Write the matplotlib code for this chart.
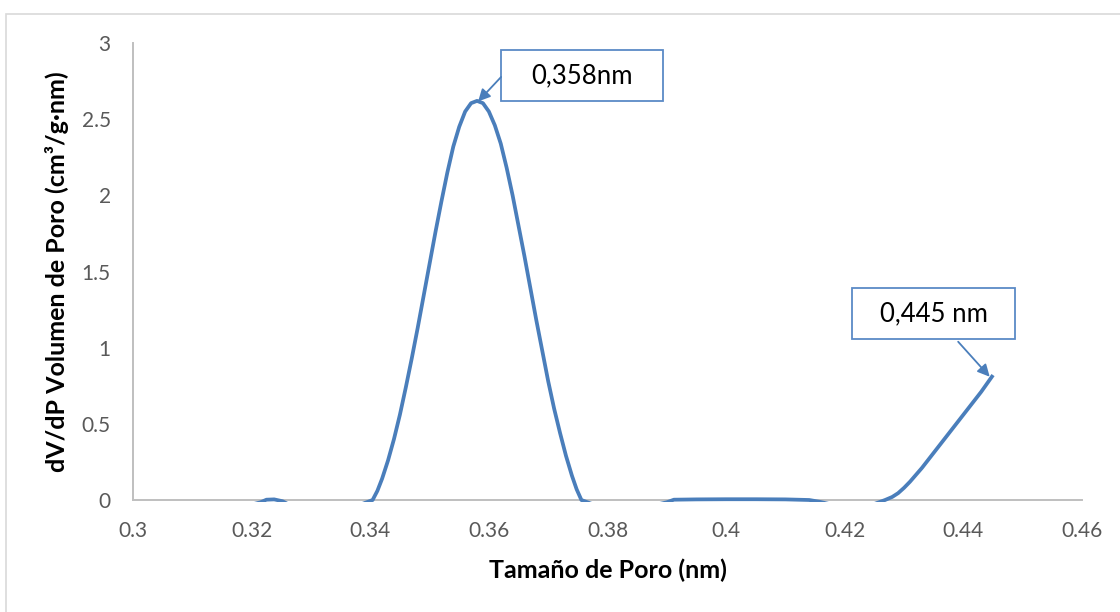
import matplotlib
matplotlib.use("Agg")
import matplotlib.pyplot as plt
from matplotlib.patches import Rectangle

plt.rcParams["font.family"] = ["Lato", "DejaVu Sans"]

# ---------------------------------------------------------------------------
# Data
# ---------------------------------------------------------------------------
pore_size_nm = [
    0.3100, 0.3180, 0.3215, 0.3225, 0.3238, 0.3252, 0.3270, 0.3320,
    0.3370, 0.3404, 0.3412, 0.3420, 0.3430, 0.3440, 0.3450, 0.3460,
    0.3470, 0.3480, 0.3490, 0.3500, 0.3510, 0.3520, 0.3530, 0.3540,
    0.3550, 0.3560, 0.3570, 0.3580, 0.3590, 0.3600, 0.3610, 0.3620,
    0.3630, 0.3640, 0.3650, 0.3660, 0.3670, 0.3680, 0.3690, 0.3700,
    0.3710, 0.3720, 0.3730, 0.3740, 0.3748, 0.3756, 0.3790, 0.3850,
    0.3900, 0.3912, 0.3950, 0.4000, 0.4050, 0.4100, 0.4140, 0.4158,
    0.4200, 0.4240, 0.4268, 0.4280, 0.4290, 0.4300, 0.4310, 0.4320,
    0.4330, 0.4340, 0.4350, 0.4370, 0.4390, 0.4410, 0.4430, 0.4450,
]
dv_dp = [
    -0.060, -0.050, -0.015, 0.002, 0.004, -0.008, -0.045, -0.060,
    -0.050, 0.000, 0.060, 0.140, 0.260, 0.400, 0.560, 0.740,
    0.930, 1.130, 1.340, 1.550, 1.760, 1.960, 2.150, 2.320,
    2.450, 2.550, 2.605, 2.620, 2.605, 2.550, 2.460, 2.340,
    2.180, 2.000, 1.800, 1.600, 1.390, 1.180, 0.980, 0.780,
    0.600, 0.440, 0.290, 0.160, 0.070, 0.000, -0.050, -0.060,
    -0.015, 0.002, 0.004, 0.005, 0.005, 0.004, 0.000, -0.012,
    -0.050, -0.040, 0.000, 0.020, 0.045, 0.080, 0.120, 0.165,
    0.210, 0.260, 0.310, 0.410, 0.510, 0.610, 0.710, 0.820,
]

x_ticks = [0.3, 0.32, 0.34, 0.36, 0.38, 0.4, 0.42, 0.44, 0.46]
x_tick_labels = ["0.3", "0.32", "0.34", "0.36", "0.38", "0.4", "0.42", "0.44", "0.46"]
y_ticks = [0, 0.5, 1, 1.5, 2, 2.5, 3]
y_tick_labels = ["0", "0.5", "1", "1.5", "2", "2.5", "3"]

LINE_BLUE = "#4A7EBB"
BOX_BLUE = "#5B8AC6"
AXIS_GRAY = "#BFBFBF"
TICK_GRAY = "#595959"

fig = plt.figure(figsize=(11.2, 6.12), dpi=100)
ax = fig.add_axes([133 / 1120, 1 - 500 / 612, (1082 - 133) / 1120, (500 - 43) / 612])

# chart-area border (extends past the right/bottom edge, as in the source)
fig.add_artist(Rectangle((6 / 1120, -0.2), 1.5, 1 - 14 / 612 + 0.2,
                         transform=fig.transFigure, fill=False,
                         edgecolor="#D9D9D9", linewidth=1.2, clip_on=False))

line, = ax.plot(pore_size_nm, dv_dp, color=LINE_BLUE, linewidth=2.7,
                solid_capstyle="butt", solid_joinstyle="round")
# Excel clips the series a couple of pixels below the category axis
clip = Rectangle((0, -0.0045), 1, 1.01, transform=ax.transAxes, visible=False)
ax.add_patch(clip)
line.set_clip_path(clip)

ax.set_xlim(0.3, 0.46)
ax.set_ylim(0, 3)
ax.set_xticks(x_ticks)
ax.set_xticklabels(x_tick_labels)
ax.set_yticks(y_ticks)
ax.set_yticklabels(y_tick_labels)
ax.tick_params(length=0, labelsize=15, labelcolor=TICK_GRAY)
ax.tick_params(axis="x", pad=15)
ax.tick_params(axis="y", pad=16)

for side in ("top", "right"):
    ax.spines[side].set_visible(False)
for side in ("left", "bottom"):
    ax.spines[side].set_color(AXIS_GRAY)
    ax.spines[side].set_linewidth(1.4)
    ax.spines[side].set_zorder(0)

ax.set_xlabel("Tamaño de Poro (nm)", fontsize=18, fontweight="bold", labelpad=13)
ax.set_ylabel("dV/dP Volumen de Poro (cm³/g·nm)", fontsize=18, fontweight="bold",
              labelpad=9)

# ---------------------------------------------------------------------------
# Callouts
# ---------------------------------------------------------------------------
arrow_kw = dict(arrowstyle="-|>", color=LINE_BLUE, lw=1.3, mutation_scale=18,
                shrinkA=0, shrinkB=0)

ax.add_patch(Rectangle((0.36206, 2.619), 0.02732, 0.335, facecolor="white",
                       edgecolor=BOX_BLUE, linewidth=1.3, clip_on=False, zorder=4))
ax.text(0.37572, 2.786, "0,358nm", fontsize=18.5, ha="center", va="center",
        color="black", zorder=5)
ax.annotate("", xy=(0.35818, 2.616), xytext=(0.36206, 2.777),
            arrowprops=arrow_kw, annotation_clip=False, zorder=5)

ax.add_patch(Rectangle((0.42125, 1.057), 0.02748, 0.335, facecolor="white",
                       edgecolor=BOX_BLUE, linewidth=1.3, clip_on=False, zorder=4))
ax.text(0.43499, 1.222, "0,445 nm", fontsize=18.5, ha="center", va="center",
        color="black", zorder=5)
ax.annotate("", xy=(0.44444, 0.809), xytext=(0.43912, 1.039),
            arrowprops=arrow_kw, annotation_clip=False, zorder=5)

fig.savefig("out.png", dpi=100)
